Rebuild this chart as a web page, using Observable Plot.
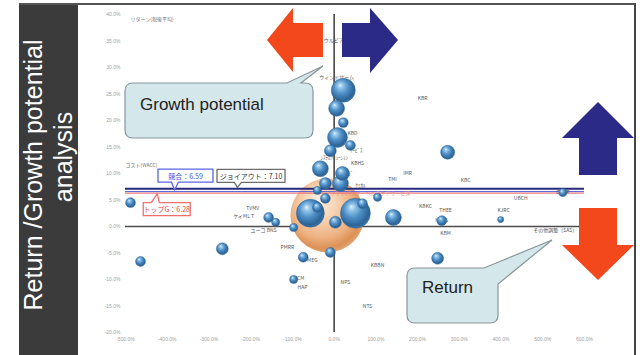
<!DOCTYPE html>
<html lang="ja">
<head>
<meta charset="utf-8">
<script src="https://cdn.jsdelivr.net/npm/d3@7"></script>
<script src="https://cdn.jsdelivr.net/npm/@observablehq/plot@0.6"></script>
<style>
  html, body { margin: 0; padding: 0; background: #fff; }
  #page { position: relative; width: 640px; height: 355px; overflow: hidden; font-family: "Liberation Sans", Arial, sans-serif; }
  #panel { position: absolute; left: 19px; top: 3px; width: 59px; height: 352px; background: #3b3b3b; }
  #frame { position: absolute; left: 19px; top: 3px; width: 617px; height: 356px; border-top: 2px solid #555; border-right: 2px solid #444; box-sizing: border-box; }
  #chart { position: absolute; left: 78px; top: 3px; }
  #deco { position: absolute; left: 0; top: 0; pointer-events: none; }
</style>
</head>
<body>
<div id="page">
  <div id="panel"></div>
  <div id="frame"></div>
  <div id="chart"></div>
  <svg id="deco" width="640" height="355"></svg>
</div>
<script>
// Business portfolio: growth (x, %) vs. return (y, %), bubble area = relative scale
const names = [
  "ウルビア", "ウィンドサーム", "", "", "", "KBD", "", "", "", "ｼｽﾃﾑｿﾘｭｰｼｮﾝ",
  "KBHS", "", "", "", "", "", "", "", "", "",
  "", "", "", "", "", "", "", "KMC", "PBE", "",
  "PMEG", "", "KBCM", "HAP", "", "HEGS", "", "SE", "CORP", "",
  "", "KBR", "TMI", "IMR", "KBC", "UBCH", "KBKC", "THEE", "KJRC", "KBM",
  "その他調整（SAS）", "KBBN", "NPS", "NTS", "TVMV", "ケイML T", "ユーコ BNS", "PMRR", "ｻｰﾋﾞｽ", "ｴﾝｼﾞ",
  "ｹﾐｶﾙ", "KBE"
];
const growth = [
  -1, 6, 22, 6, 22, 44, 8, 39, -9, 0,
  56, -33, 20, -21, 15, -40, -57, 51, 3, 142,
  104, -21, 272, -488, -157, -140, -97, -268, -464, -74,
  -56, -97, -88, -76, -9, 258, 248, 399, 548, 68,
  -40, 212, 140, 176, 315, 447, 219, 267, 406, 267,
  530, 104, 27, 80, -195, -217, -169, -112, 53, 34,
  63, 63
];
const returns = [
  35.1, 28.1, 25.7, 22.3, 19.6, 17.5, 16.8, 15.3, 14.3, 13.0,
  11.9, 10.9, 10.0, 8.1, 8.1, 6.8, 2.5, 2.5, 0.8, 1.7,
  5.5, 5.3, 14.0, 4.5, 1.7, 0.8, -0.2, -4.2, -6.6, -5.8,
  -6.4, -10.0, -9.8, -11.5, -4.9, 1.1, -6.0, 1.3, 6.4, 4.3,
  3.6, 24.2, 8.9, 10.0, 8.7, 5.3, 3.8, 3.0, 3.0, -1.3,
  -0.8, -7.4, -10.6, -15.1, 3.4, 1.9, -0.8, -4.0, 14.3, 10.0,
  7.7, 2.1
];
const sizes = [
  0, 0, 10.5, 4.7, 1.8, 0, 7.3, 1.8, 2.6, 0,
  0, 4.7, 3.6, 2.6, 4.7, 1.2, 14.3, 16.4, 2.6, 4.7,
  1.2, 1.8, 3.6, 1.8, 1.8, 1.2, 1.2, 2.6, 1.8, 1.8,
  0, 1.2, 0, 0, 1.8, 1.8, 2.6, 0.7, 1.2, 1.8,
  1.8, 0, 0, 0, 0, 0, 0, 0, 0, 0,
  0, 0, 0, 0, 0, 0, 0, 0, 0, 0,
  0, 0
];

// Company-wide total
const totalGrowth = [-16];
const totalReturn = [2.1];
const totalSize = [100];

// Segment note drawn along the cost lines
const noteText = ["ソフトバンク・ヘルスケアサービス"];
const noteGrowth = [87];
const noteReturn = [6.2];

// Cost of capital benchmarks (%)
const costNames = ["ジョイアウト", "競合", "トップG"];
const costValues = [7.10, 6.59, 6.28];

const yTitle = "リターン(税後平均)";
const costTitle = "コスト(WACC)";

// Styling of the benchmark lines and their callouts (x: callout centre on the growth axis)
const costStyle = {
  "ジョイアウト": {stroke: "#29297c", width: 2, box: "#6d6d6d", text: "#333", x: -198, w: 68, above: true, gap: 6},
  "競合": {stroke: "#5660dc", width: 1, box: "#5a64e4", text: "#4650dc", x: -355, w: 55, above: true, gap: 9},
  "トップG": {stroke: "#f07a7a", width: 1.2, box: "#f07070", text: "#e04c4c", x: -400, w: 47, above: false, gap: 10}
};

const points = names.map((n, i) => ({name: n, g: growth[i], r: returns[i], s: sizes[i]}));
const total = totalGrowth.map((g, i) => ({g, r: totalReturn[i], s: totalSize[i]}));
const notes = noteText.map((t, i) => ({t, g: noteGrowth[i], r: noteReturn[i]}));
const costs = costNames.map((n, i) => ({name: n, value: costValues[i]}));
const pct = d => d.toFixed(1) + "%";
const jp = "'Noto Sans CJK JP', 'Liberation Sans', sans-serif";

const chart = Plot.plot({
  width: 556,
  height: 352,
  marginLeft: 47,
  marginRight: 50,
  marginTop: 11,
  marginBottom: 23,
  style: {background: "transparent", fontFamily: "'Liberation Sans', Arial, sans-serif", fontSize: "5px", color: "#a0a0a0", overflow: "visible"},
  x: {domain: [-500, 600], ticks: 11, tickFormat: pct, tickSize: 0, tickPadding: 5, label: null},
  y: {domain: [-20, 40], ticks: 12, tickFormat: pct, tickSize: 0, tickPadding: 5, label: null},
  r: {type: "sqrt", domain: [0, 100], range: [0, 37]},
  marks: [
    Plot.ruleY([0], {x1: -500, x2: 600, stroke: "#4d4d4d", strokeWidth: 1.5}),
    Plot.ruleX([0], {y1: -20, y2: 40, stroke: "#3a3a3a", strokeWidth: 1.5}),
    Plot.dot(total, {x: "g", y: "r", r: "s", fill: "url(#ballOrange)"}),
    Plot.ruleY(costs.slice().reverse(), {
      y: "value", x1: -500, x2: 600,
      stroke: d => costStyle[d.name].stroke,
      strokeWidth: d => costStyle[d.name].width
    }),
    Plot.text(points.filter(d => d.name), {x: "g", y: "r", text: "name", fill: "#555", fontSize: 5, fontFamily: jp}),
    Plot.text(notes, {x: "g", y: "r", text: "t", fill: "#e58a8a", fontSize: 5, fontFamily: jp}),
    Plot.dot(points.filter(d => d.s > 0), {x: "g", y: "r", r: "s", fill: "url(#ballBlue)", stroke: "#285a8a", strokeWidth: 0.4}),
    Plot.text([yTitle], {frameAnchor: "top-left", dx: 5, dy: 3, fill: "#777", fontSize: 5, fontFamily: jp, textAnchor: "start"}),
    Plot.text([costTitle], {x: -500, y: costValues[0], dy: -23, fill: "#777", fontSize: 5, fontFamily: jp, textAnchor: "start"})
  ]
});
document.getElementById("chart").append(chart);

const svg = d3.select(chart);

// Shaded ball fills for the bubbles
const defs = svg.insert("defs", ":first-child");
function ball(id, stops) {
  const gr = defs.append("radialGradient").attr("id", id)
    .attr("cx", "45%").attr("cy", "42%").attr("r", "60%").attr("fx", "36%").attr("fy", "28%");
  stops.forEach(([o, c]) => gr.append("stop").attr("offset", o).attr("stop-color", c));
}
ball("ballBlue", [[0, "#e2f1fc"], [0.18, "#94c6ea"], [0.5, "#4f8fc6"], [0.85, "#2c6497"], [1, "#3d78ac"]]);
ball("ballOrange", [[0, "#fdf1e6"], [0.35, "#f8d6b6"], [0.7, "#eeb283"], [0.9, "#dc9156"], [1, "#e2a774"]]);

// Benchmark callouts, placed on their lines through the chart scales
const xs = chart.scale("x"), ys = chart.scale("y");
const boxes = svg.append("g");
const labels = svg.append("g");
costs.forEach(c => {
  const st = costStyle[c.name];
  const ly = ys.apply(c.value);
  const bw = st.w, bh = 13;
  const cx = xs.apply(st.x);
  const bx = cx - bw / 2;
  const px = bx + bw * 0.3;
  let path, by;
  if (st.above) {
    by = ly - st.gap - bh;
    path = `M${bx},${by}H${bx + bw}V${by + bh}H${px + 4}L${px},${ly - 1}L${px - 3},${by + bh}H${bx}Z`;
  } else {
    by = ly + st.gap;
    path = `M${bx},${by}H${px - 6}L${px},${ly + 1}L${px + 2},${by}H${bx + bw}V${by + bh}H${bx}Z`;
  }
  boxes.append("path").attr("d", path).attr("fill", "#fff")
    .attr("stroke", st.box).attr("stroke-width", 1.3).attr("stroke-linejoin", "round");
  labels.append("text").attr("font-size", 7).attr("font-family", jp)
    .attr("fill", st.text).attr("text-anchor", "middle")
    .attr("x", cx).attr("y", by + 9.6).text(`${c.name}：${c.value.toFixed(2)}`);
});

// Slide decorations: title panel, direction arrows, speech bubbles
const deco = d3.select("#deco");
deco.append("text").attr("transform", "translate(42,175) rotate(-90)")
  .attr("text-anchor", "middle").attr("font-size", 25).attr("fill", "#fff")
  .attr("font-family", "'Liberation Sans', Arial, sans-serif").text("Return /Growth potential");
deco.append("text").attr("transform", "translate(72,157) rotate(-90)")
  .attr("text-anchor", "middle").attr("font-size", 25).attr("fill", "#fff")
  .attr("font-family", "'Liberation Sans', Arial, sans-serif").text("analysis");

const red = "#f2481c", navy = "#2b2a86";
deco.append("path").attr("d", "M323,23L293,23L293,8L267,40L293,72L293,57L323,57Z").attr("fill", red);
deco.append("path").attr("d", "M342,23L370,23L370,8L398,40L370,73L370,57L342,57Z").attr("fill", navy);
deco.append("path").attr("d", "M579,175L579,138L562,138L598,102L634,138L617,138L617,175Z").attr("fill", navy);
deco.append("path").attr("d", "M579,208L617,208L617,245L634,245L598,280L562,245L579,245Z").attr("fill", red);

const bubbleFill = "#d4e7ea", bubbleStroke = "#87979a";
deco.append("path")
  .attr("d", "M133,83L287,83L323,66L301,83L305,83Q313,83 313,91L313,130Q313,138 305,138L133,138Q125,138 125,130L125,91Q125,83 133,83Z")
  .attr("fill", bubbleFill).attr("stroke", bubbleStroke).attr("stroke-width", 1.2);
deco.append("text").attr("x", 140).attr("y", 110).attr("font-size", 17).attr("fill", "#222")
  .attr("font-family", "'Liberation Sans', Arial, sans-serif").text("Growth potential");

deco.append("path")
  .attr("d", "M415,268L484,268L552,240L498,284L498,315Q498,323 490,323L415,323Q407,323 407,315L407,276Q407,268 415,268Z")
  .attr("fill", bubbleFill).attr("stroke", bubbleStroke).attr("stroke-width", 1.2);
deco.append("text").attr("x", 422).attr("y", 293).attr("font-size", 17).attr("fill", "#222")
  .attr("font-family", "'Liberation Sans', Arial, sans-serif").text("Return");
</script>
</body>
</html>
